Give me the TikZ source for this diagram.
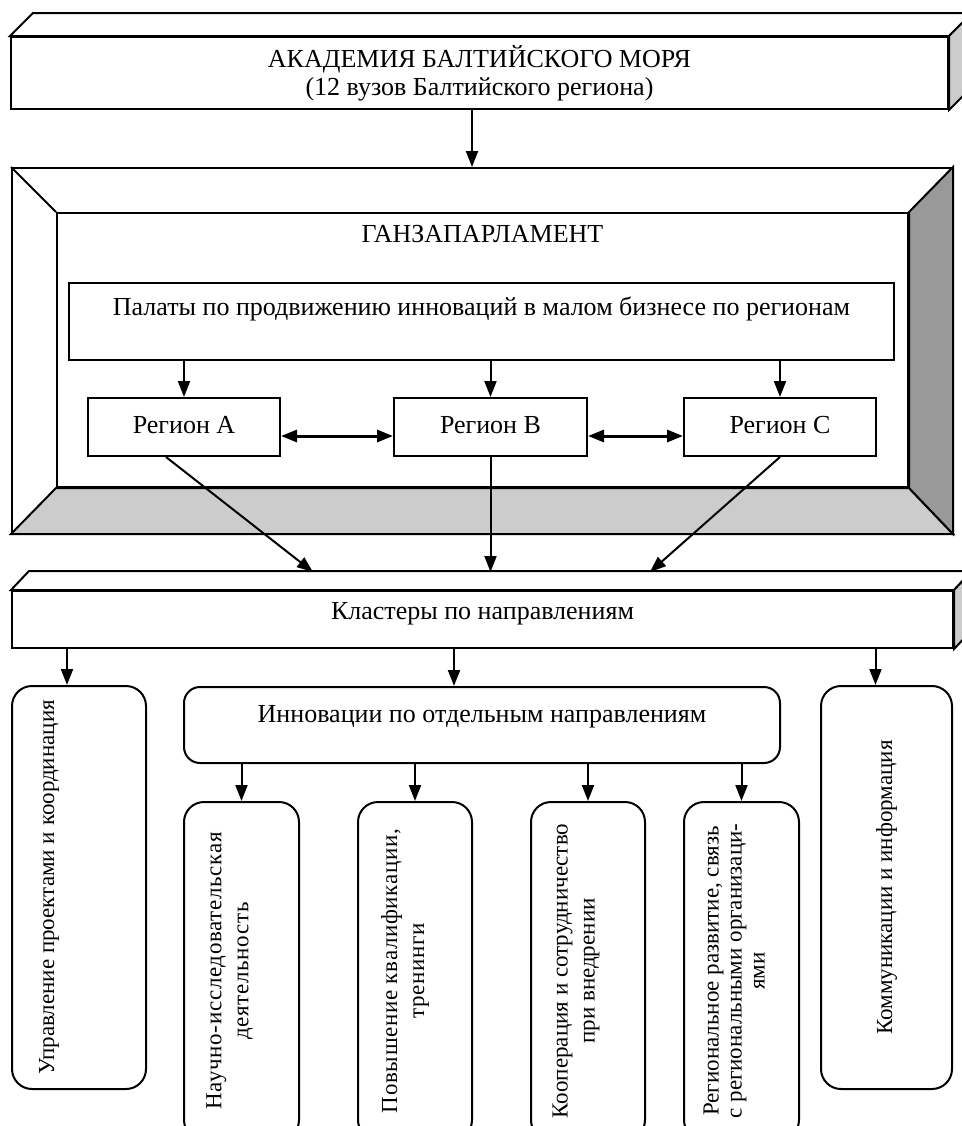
\documentclass[tikz,border=0pt]{standalone}
\usepackage{fontspec}
\setmainfont{Liberation Serif}
\usetikzlibrary{arrows.meta,fit}

\tikzset{every picture/.style={line width=0.75pt}}
\tikzset{
  box/.style={draw, line width=1pt, inner sep=0pt, fill=white},
  rbox/.style={box, rounded corners=10pt},
  face/.style={draw, line width=1pt},
  txt/.style={inner sep=0pt, align=center, font=\fontsize{13}{14}\selectfont},
  vtxt/.style={inner sep=0pt, align=center, rotate=90, font=\fontsize{11.5}{13.5}\selectfont},
  link/.style={line width=1pt, -{Triangle[length=8pt,width=6pt]}},
  both/.style={line width=1.5pt, {Triangle[length=8pt,width=6pt]}-{Triangle[length=8pt,width=6pt]}},
}

\begin{document}
\begin{tikzpicture}[x=0.5pt,y=-0.5pt]
\useasboundingbox (0,0) rectangle (962,1126);
\clip (0,0) rectangle (962,1126);

%Shape: Bar
\node[box, fit={(11,37) (948,109)}] (acad) {};
\draw[face, fill=white] (acad.north west) -- ++(23,-23) -- ([shift={(23,-23)}]acad.north east) -- (acad.north east) -- cycle;
\draw[face, fill=black!20] (acad.north east) -- ++(23,-23) -- ([shift={(23,-23)}]acad.south east) -- (acad.south east) -- cycle;
\node[txt] (acadT) at (acad.center) {АКАДЕМИЯ БАЛТИЙСКОГО МОРЯ\\(12 вузов Балтийского региона)};

%Shape: Frame
\node[box, fit={(12,168) (952,533)}] (parl) {};
\node[box, fit={(57,213) (908,487)}] (hall) {};
\draw[face, fill=black!20] (parl.south west) -- (hall.south west) -- (hall.south east) -- (parl.south east) -- cycle;
\draw[face, fill=black!40] (parl.south east) -- (hall.south east) -- (hall.north east) -- (parl.north east) -- cycle;
\draw[face] (parl.north west) -- (hall.north west);
\node[txt] (hallT) at ([yshift=-11pt]hall.north) {ГАНЗАПАРЛАМЕНТ};

%Shape: Rectangle
\node[box, fit={(69,283) (894,360)}] (pal) {};
\node[txt] (palT) at ([yshift=-13.5pt]pal.north) {Палаты по продвижению инноваций в малом бизнесе по регионам};

%Shape: Rectangle
\node[box, fit={(88,398) (280,456)}] (regA) {};
\node[txt] (regAT) at ([yshift=1pt]regA.center) {Регион A};
\node[box, fit={(394,398) (587,456)}] (regB) {};
\node[txt] (regBT) at ([yshift=1pt]regB.center) {Регион B};
\node[box, fit={(684,398) (876,456)}] (regC) {};
\node[txt] (regCT) at ([yshift=1pt]regC.center) {Регион C};

%Straight Lines
\draw[link] ([xshift=-3.75pt]acad.south) -- ([xshift=-5pt]parl.north);
\draw[link] (pal.south -| regA.north) -- (regA.north);
\draw[link] (pal.south -| regB.north) -- (regB.north);
\draw[link] (pal.south -| regC.north) -- (regC.north);
\draw[both] ([yshift=-4.5pt]regA.east) -- ([yshift=-4.5pt]regB.west);
\draw[both] ([yshift=-4.5pt]regB.east) -- ([yshift=-4.5pt]regC.west);

%Shape: Bar
\node[box, fit={(12,591) (953,648)}] (clus) {};
\draw[face, fill=white] (clus.north west) -- ++(18,-19) -- ([shift={(18,-19)}]clus.north east) -- (clus.north east) -- cycle;
\draw[face, fill=black!20] (clus.north east) -- ++(18,-19) -- ([shift={(18,-19)}]clus.south east) -- (clus.south east) -- cycle;
\node[txt] (clusT) at ([yshift=3pt]clus.center) {Кластеры по направлениям};

%Straight Lines
\coordinate (toA) at (313,572);
\coordinate (toB) at (490.5,572);
\coordinate (toC) at (650,572);
\draw[link] ([xshift=-9pt]regA.south) -- (toA);
\draw[link] (regB.south) -- (toB);
\draw[link] (regC.south) -- (toC);

%Rounded Rect
\node[rbox, fit={(12,686) (146,1089)}] (mgmt) {};
\node[vtxt] (mgmtT) at ([xshift=-15pt]mgmt.center) {Управление проектами и координация};
\node[rbox, rounded corners=8pt, fit={(184,687) (780,763)}] (innov) {};
\node[txt] (innovT) at ([yshift=-15.5pt]innov.north) {Инновации по отдельным направлениям};
\node[rbox, fit={(821,686) (952,1089)}] (comm) {};
\node[vtxt] (commT) at (comm.center) {Коммуникации и информация};

%Straight Lines
\coordinate (mIn) at ([xshift=-6pt]mgmt.north);
\coordinate (iIn) at ([xshift=-14pt]innov.north);
\coordinate (cIn) at ([xshift=-5.5pt]comm.north);
\draw[link] (clus.south -| mIn) -- (mIn);
\draw[link] (clus.south -| iIn) -- (iIn);
\draw[link] (clus.south -| cIn) -- (cIn);

%Rounded Rect
\node[rbox, fit={(184,802) (299,1140)}] (res) {};
\node[vtxt] (resT) at ([xshift=-6pt]res.center) {\addfontfeatures{LetterSpace=3}Научно-исследовательская\\\addfontfeatures{LetterSpace=3}деятельность};
\node[rbox, fit={(358,802) (472,1140)}] (train) {};
\node[vtxt] (trainT) at ([xshift=-5pt]train.center) {\addfontfeatures{LetterSpace=3}Повышение квалификации,\\\addfontfeatures{LetterSpace=3}тренинги};
\node[rbox, fit={(531,802) (645,1140)}] (coop) {};
\node[vtxt] (coopT) at ([xshift=-6pt]coop.center) {Кооперация и сотрудничество\\при внедрении};
\node[rbox, fit={(684,802) (799,1140)}] (regdev) {};
\node[vtxt, font=\fontsize{11.5}{11.5}\selectfont] (regdevT) at ([xshift=-3.75pt]regdev.center) {Региональное развитие, связь\\с региональными организаци-\\ями};

%Straight Lines
\draw[link] (innov.south -| res.north) -- (res.north);
\draw[link] (innov.south -| train.north) -- (train.north);
\draw[link] (innov.south -| coop.north) -- (coop.north);
\draw[link] (innov.south -| regdev.north) -- (regdev.north);

\end{tikzpicture}
\end{document}
